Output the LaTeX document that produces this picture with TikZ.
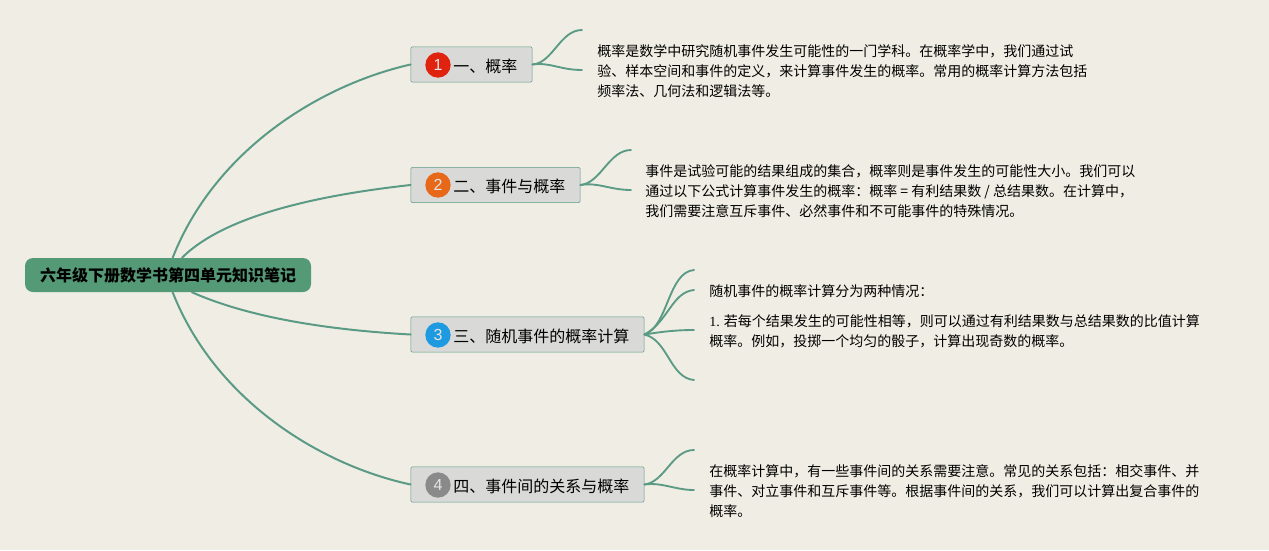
\documentclass[tikz,border=0pt]{standalone}
\usepackage{fontspec}
\setmainfont{Noto Sans CJK SC}
\newfontfamily\numfont{Liberation Serif}
\newfontfamily\badgefont{Liberation Sans}
\definecolor{paper}{HTML}{F0EEE4}
\definecolor{branchgreen}{HTML}{5B9A85}
\definecolor{rootgreen}{HTML}{549A76}
\definecolor{topicgray}{HTML}{D9D9D8}
\definecolor{badgered}{HTML}{E0230F}
\definecolor{badgeorange}{HTML}{E8681A}
\definecolor{badgeblue}{HTML}{1E9BE0}
\definecolor{badgegray}{HTML}{8A8A8A}
\tikzset{
  rootbox/.style={fill=rootgreen, rounded corners=6pt, minimum width=214.5pt, minimum height=25.5pt, inner sep=0pt, font=\fontsize{12pt}{14pt}\selectfont\bfseries},
  topicbox/.style={draw=branchgreen, fill=topicgray, rounded corners=1pt, minimum height=26.5pt, inner sep=0pt, font=\fontsize{12pt}{14pt}\selectfont},
  badge/.style={circle, minimum size=19pt, inner sep=0pt, text=white!90!black, font=\fontsize{12pt}{14pt}\selectfont\badgefont},
  topiclabel/.style={anchor=west, inner sep=0pt, font=\fontsize{12pt}{14pt}\selectfont},
  notes/.style={anchor=west, align=left, inner sep=0pt, font=\fontsize{10.5pt}{15pt}\selectfont},
  branch/.style={draw=branchgreen, line width=1.5pt, line cap=round},
  twig/.style={draw=branchgreen, line width=1.4pt, line cap=round}
}
\begin{document}
\begin{tikzpicture}[x=0.75pt, y=-0.75pt]
    % Background
    \fill[paper] (0,0) rectangle (1269,550);
    \useasboundingbox (0,0) rectangle (1269,550);

    % Root and four topics
    \node[rootbox] (root) at (168,275) {六年级下册数学书第四单元知识笔记};
    \node[topicbox, minimum width=91pt] (topicA) at (471.5,64.5) {};
    \node[topicbox, minimum width=127pt] (topicB) at (495.5,185) {};
    \node[topicbox, minimum width=175pt] (topicC) at (527.5,334.5) {};
    \node[topicbox, minimum width=175pt] (topicD) at (527.5,484.5) {};

    % Numbered badges
    \node[badge, fill=badgered] (badgeA) at (438,65) {1};
    \node[badge, fill=badgeorange] (badgeB) at (438,185) {2};
    \node[badge, fill=badgeblue] (badgeC) at (438,335) {3};
    \node[badge, fill=badgegray] (badgeD) at (438,485) {4};

    % Topic titles
    \node[topiclabel] (titleA) at (453,66) {一、概率};
    \node[topiclabel] (titleB) at (453,186) {二、事件与概率};
    \node[topiclabel] (titleC) at (453,336) {三、随机事件的概率计算};
    \node[topiclabel] (titleD) at (453,486) {四、事件间的关系与概率};

    % Notes
    \node[notes] (noteA) at (597,71) {概率是数学中研究随机事件发生可能性的一门学科。在概率学中，我们通过试\\验、样本空间和事件的定义，来计算事件发生的概率。常用的概率计算方法包括\\频率法、几何法和逻辑法等。};
    \node[notes] (noteB) at (645,191) {事件是试验可能的结果组成的集合，概率则是事件发生的可能性大小。我们可以\\通过以下公式计算事件发生的概率：概率 = 有利结果数 / 总结果数。在计算中，\\我们需要注意互斥事件、必然事件和不可能事件的特殊情况。};
    \node[notes] (noteCa) at (709,291) {随机事件的概率计算分为两种情况：};
    \node[notes] (noteCb) at (709,331) {{\numfont 1.} 若每个结果发生的可能性相等，则可以通过有利结果数与总结果数的比值计算\\概率。例如，投掷一个均匀的骰子，计算出现奇数的概率。};
    \node[notes] (noteD) at (709,491) {在概率计算中，有一些事件间的关系需要注意。常见的关系包括：相交事件、并\\事件、对立事件和互斥事件等。根据事件间的关系，我们可以计算出复合事件的\\概率。};

    % Free ends of the twigs
    \coordinate (endAa) at (582,30);
    \coordinate (endAb) at (582,70);
    \coordinate (endBa) at (631,150);
    \coordinate (endBb) at (631,190);
    \coordinate (endCa) at (694,270);
    \coordinate (endCb) at (694,290);
    \coordinate (endCc) at (694,330);
    \coordinate (endCd) at (694,380);
    \coordinate (endDa) at (694,450);
    \coordinate (endDb) at (694,490);

    % Branches from the root
    \draw[branch] ([xshift=3.5pt]root.north) .. controls (215,150) and (320,85) .. (topicA.west);
    \draw[branch] ([xshift=10.5pt]root.north) .. controls (225,215) and (320,195) .. (topicB.west);
    \draw[branch] ([xshift=18pt]root.south) .. controls (250,318) and (330,330) .. (topicC.west);
    \draw[branch] ([xshift=3.5pt]root.south) .. controls (215,400) and (320,465) .. (topicD.west);

    % Twigs to the notes
    \draw[twig] (topicA.east) .. controls (553,63) and (560,30) .. (endAa);
    \draw[twig] (topicA.east) .. controls (550,62) and (560,70) .. (endAb);
    \draw[twig] (topicB.east) .. controls (601,183) and (609,150) .. (endBa);
    \draw[twig] (topicB.east) .. controls (598,182) and (610,190) .. (endBb);
    \draw[twig] (topicC.east) .. controls (668,327) and (668,272) .. (endCa);
    \draw[twig] (topicC.east) .. controls (668,322) and (672,292) .. (endCb);
    \draw[twig] (topicC.east) .. controls (660,332) and (675,330) .. (endCc);
    \draw[twig] (topicC.east) .. controls (668,340) and (670,378) .. (endCd);
    \draw[twig] (topicD.east) .. controls (665,482) and (672,450) .. (endDa);
    \draw[twig] (topicD.east) .. controls (662,482) and (675,490) .. (endDb);
\end{tikzpicture}
\end{document}
